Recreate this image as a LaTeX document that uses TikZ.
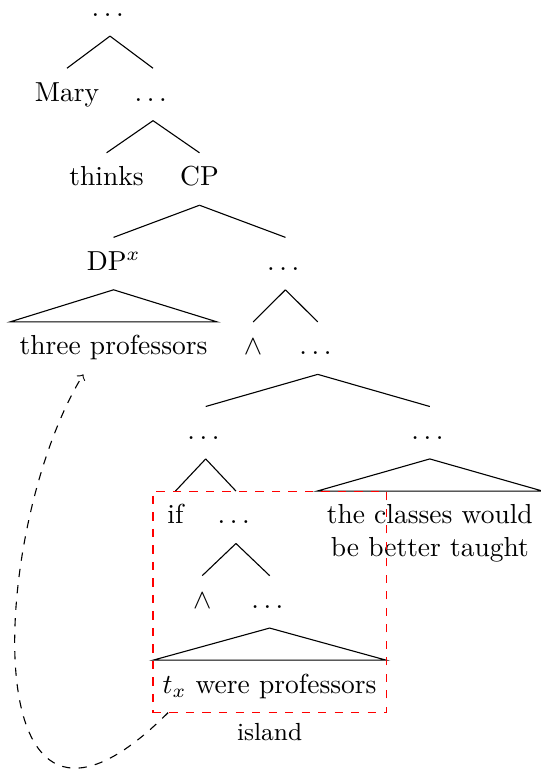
\documentclass[tikz,border=0pt]{standalone}
\usetikzlibrary{fit}
\newcommand{\ellip}{.\kern1.667pt.\kern1.667pt.\kern1.667pt}
\begin{document}
\begin{tikzpicture}[
    grow=down,
    level distance=33.15pt,
    tnode/.style={anchor=base, execute at begin node=\strut},
    every child node/.style={tnode},
    edge from parent path={(\tikzparentnode.south) -- (\tikzchildnode.north)},
    roof/.style={edge from parent path={(\tikzparentnode.south) -- (\tikzchildnode.north west) -- (\tikzchildnode.north east) -- cycle}},
    level 1/.style={sibling distance=31.3pt},
    level 2/.style={sibling distance=33.8pt},
    level 3/.style={sibling distance=62.5pt},
    level 4/.style={sibling distance=23.5pt},
    level 5/.style={sibling distance=81.5pt},
    level 6/.style={sibling distance=22pt},
    level 7/.style={sibling distance=24.5pt}
]
\useasboundingbox (-40pt,-274pt) rectangle (156.7pt,6pt);
\node[tnode] (root) {\ellip}
    child { node (mary) {Mary} }
    child { node (v1) {\ellip}
        child { node (thinks) {thinks} }
        child { node (cp) {CP}
            child { node (dp) {DP$^x$}
                child[roof] { node (tp) {three professors} }
            }
            child { node (v2) {\ellip}
                child { node (and1) {$\wedge$} }
                child { node (v3) {\ellip}
                    child { node (v4) {\ellip}
                        child { node (ifw) {if} }
                        child { node (v5) {\ellip}
                            child { node (and2) {$\wedge$} }
                            child { node (v6) {\ellip}
                                child[roof] { node (tx) {$t_x$ were professors} }
                            }
                        }
                    }
                    child { node (v7) {\ellip}
                        child[roof] { node (cls) {\begin{tabular}[t]{@{}c@{}}the classes would\\be better taught\end{tabular}} }
                    }
                }
            }
        }
    };
% island box and movement
\node[fit=(ifw)(tx), draw=red, dashed, inner sep=0pt, label={[font=\small]below:island}] (isl) {};
\coordinate (trace) at ([xshift=5.5pt]tx.south west);
\coordinate (moved) at ([xshift=-11pt]tp.south);
\draw[->, dashed] (trace) .. controls +(-72pt,-72pt) and +(-34.2pt,-55.6pt) .. (moved);
\end{tikzpicture}
\end{document}
